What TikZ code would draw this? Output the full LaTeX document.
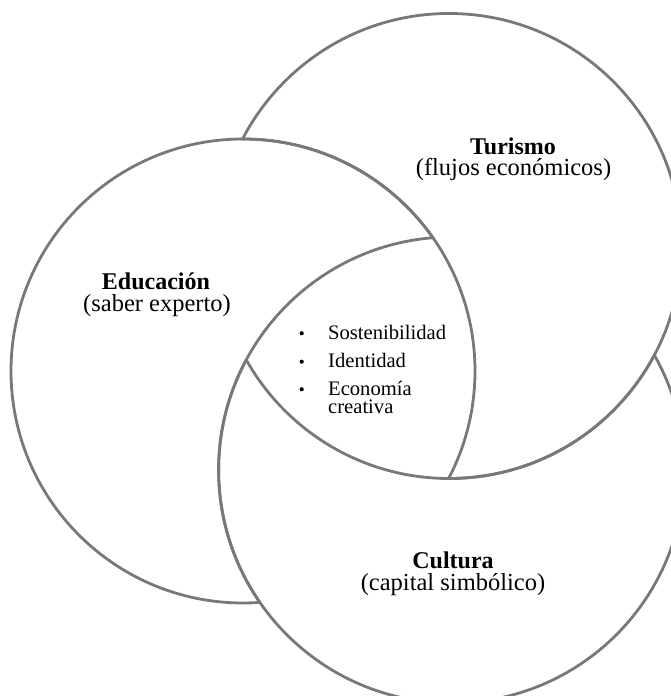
\documentclass[tikz,border=0pt]{standalone}
\usepackage{fontspec}
\setmainfont{Liberation Serif}
\definecolor{ringgray}{RGB}{120,120,120}
\begin{document}
\begin{tikzpicture}[x=1pt,y=1pt,
  ring/.style={draw=ringgray, line width=2.8pt},
  title/.style={anchor=base, inner sep=0pt, text depth=0pt, font=\fontsize{24}{24}\selectfont\bfseries},
  subtitle/.style={anchor=base, inner sep=0pt, text height=17pt, font=\fontsize{24.5}{24.5}\selectfont},
  itemtext/.style={anchor=base west, inner sep=0pt, font=\fontsize{20.6}{18}\selectfont},
  bulletdot/.style={circle, fill=black, inner sep=0pt, minimum size=4.2pt}]
\useasboundingbox (0,0) rectangle (671,696);
\coordinate (T) at (449,450);
\coordinate (E) at (243,325);
\coordinate (C) at (451.6,226);
\begin{scope}
  \clip (0,0) rectangle (671,696);
  % Turismo: visible outside Educacion and inside Cultura
  \begin{scope}[even odd rule]
    \clip (-100,-100) rectangle (800,800) (E) circle[radius=232];
    \draw[ring] (T) circle[radius=232.5];
  \end{scope}
  \begin{scope}
    \clip (C) circle[radius=233];
    \draw[ring] (T) circle[radius=232.5];
  \end{scope}
  % Educacion: visible outside Cultura and inside Turismo
  \begin{scope}[even odd rule]
    \clip (-100,-100) rectangle (800,800) (C) circle[radius=233];
    \draw[ring] (E) circle[radius=232];
  \end{scope}
  \begin{scope}
    \clip (T) circle[radius=232.5];
    \draw[ring] (E) circle[radius=232];
  \end{scope}
  % Cultura: visible outside Turismo and inside Educacion
  \begin{scope}[even odd rule]
    \clip (-100,-100) rectangle (800,800) (T) circle[radius=232.5];
    \draw[ring] (C) circle[radius=233];
  \end{scope}
  \begin{scope}
    \clip (E) circle[radius=232];
    \draw[ring] (C) circle[radius=233];
  \end{scope}
\end{scope}
% labels
\node[title] (tur) at (513,541.7) {Turismo};
\node[subtitle] (turs) at (513.5,520.5) {(flujos económicos)};
\node[title] (edu) at (156,406) {Educación};
\node[subtitle] (edus) at (157,384.5) {(saber experto)};
\node[title] (cul) at (453,127) {Cultura};
\node[subtitle] (culs) at (453,105.5) {(capital simbólico)};
% bullet list
\node[itemtext] (i1) at (328,356) {Sostenibilidad};
\node[itemtext] (i2) at (328,328.3) {Identidad};
\node[itemtext] (i3) at (328,300) {Economía};
\node[itemtext] (i3b) at (328,282) {creativa};
\node[bulletdot] (b1) at (301.7,362.7) {};
\node[bulletdot] (b2) at (301.7,334.3) {};
\node[bulletdot] (b3) at (301.7,306.7) {};
\end{tikzpicture}
\end{document}
